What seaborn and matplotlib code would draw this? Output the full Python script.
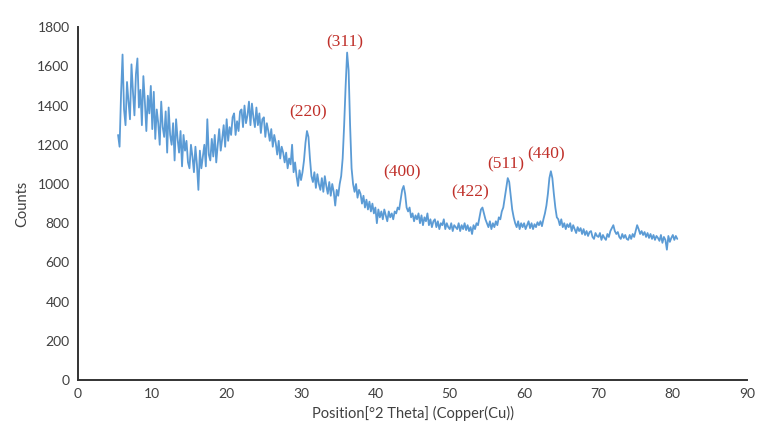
import numpy as np
import pandas as pd
import matplotlib
matplotlib.use("Agg")
import matplotlib.pyplot as plt
import seaborn as sns

# XRD scan: 2-theta grid (degrees) and measured counts
theta_start = 5.4
theta_step = 0.2

counts = [
    1250, 1190, 1460,                     # 5.4 - 5.8
    1660, 1380, 1300, 1520, 1420,         # 6
    1330, 1610, 1470, 1350, 1560,         # 7
    1640, 1390, 1480, 1300, 1550,         # 8
    1420, 1270, 1450, 1360, 1500,         # 9
    1280, 1470, 1230, 1380, 1310,         # 10
    1200, 1420, 1290, 1240, 1370,         # 11
    1160, 1390, 1250, 1200, 1310,         # 12
    1120, 1330, 1230, 1160, 1270,         # 13
    1090, 1250, 1170, 1220, 1110,         # 14
    1080, 1200, 1140, 1060, 1190,         # 15
    1100, 970, 1170, 1080, 1140,          # 16
    1200, 1090, 1330, 1150, 1120,         # 17
    1230, 1140, 1250, 1110, 1200,         # 18
    1280, 1170, 1230, 1300, 1190,         # 19
    1330, 1220, 1290, 1250, 1340,         # 20
    1360, 1250, 1320, 1270, 1370,         # 21
    1380, 1290, 1400, 1310, 1350,         # 22
    1420, 1300, 1410, 1340, 1290,         # 23
    1390, 1300, 1360, 1260, 1330,         # 24
    1340, 1240, 1310, 1270, 1220,         # 25
    1280, 1190, 1250, 1210, 1150,         # 26
    1220, 1130, 1190, 1160, 1110,         # 27
    1160, 1080, 1130, 1100, 1200,         # 28
    1060, 1110, 1040, 990, 1070,          # 29
    1020, 1060, 1120, 1210, 1270,         # 30  (220)
    1240, 1130, 1040, 1010, 1060,         # 31
    980, 1050, 1000, 970, 1030,           # 32
    960, 1040, 990, 950, 1010,            # 33
    940, 1000, 960, 890, 970,             # 34
    940, 1000, 1040, 1130, 1300,          # 35
    1500, 1670, 1580, 1300, 1080,         # 36  (311)
    1000, 960, 1000, 930, 970,            # 37
    950, 900, 940, 880, 920,              # 38
    870, 910, 860, 900, 850,              # 39
    880, 800, 870, 830, 860,              # 40
    820, 870, 840, 810, 860,              # 41
    830, 850, 820, 860, 850,              # 42
    880, 870, 920, 970, 990,              # 43  (400)
    950, 880, 860, 880, 830,              # 44
    850, 810, 840, 820, 850,              # 45
    800, 840, 790, 830, 810,              # 46
    850, 790, 820, 780, 810,              # 47
    820, 780, 810, 770, 800,              # 48
    790, 820, 770, 800, 780,              # 49
    770, 800, 760, 790, 780,              # 50
    770, 800, 760, 790, 770,              # 51
    800, 765, 790, 760, 780,              # 52
    745, 790, 770, 800, 790,              # 53
    830, 870, 880, 850, 820,              # 54  (422)
    800, 780, 810, 770, 800,              # 55
    780, 810, 790, 830, 820,              # 56
    860, 880, 930, 980, 1030,             # 57  (511)
    1010, 940, 870, 830, 800,             # 58
    780, 810, 770, 800, 780,              # 59
    800, 770, 790, 810, 775,              # 60
    800, 770, 795, 780, 805,              # 61
    790, 810, 785, 820, 850,              # 62
    890, 950, 1030, 1065, 1030,           # 63  (440)
    950, 880, 830, 820, 790,              # 64
    820, 780, 800, 770, 795,              # 65
    780, 800, 760, 790, 770,              # 66
    750, 780, 760, 775, 745,              # 67
    770, 740, 760, 735, 755,              # 68
    760, 730, 720, 750, 735,              # 69
    730, 750, 715, 740, 725,              # 70
    715, 745, 730, 760, 775,              # 71
    790, 760, 745, 755, 730,              # 72
    720, 745, 725, 740, 720,              # 73
    715, 740, 720, 745, 730,              # 74
    760, 790, 770, 745, 760,              # 75
    740, 755, 730, 750, 725,              # 76
    745, 720, 740, 715, 735,              # 77
    725, 710, 740, 700, 730,              # 78
    715, 665, 735, 705, 725,              # 79
    740, 715, 735, 720,                   # 80.0 - 80.6
]

two_theta = theta_start + theta_step * np.arange(len(counts))

# Miller indices of the indexed reflections and their label anchors
hkl_labels = ["(220)", "(311)", "(400)", "(422)", "(511)", "(440)"]
label_x = [31.0, 35.9, 43.6, 52.8, 57.5, 63.0]
label_y = [1367, 1724, 1061, 959, 1102, 1153]

x_ticks = [0, 10, 20, 30, 40, 50, 60, 70, 80, 90]
y_ticks = [0, 200, 400, 600, 800, 1000, 1200, 1400, 1600, 1800]

sns.set_theme(style="white")
plt.rcParams["font.family"] = ["Lato", "DejaVu Sans"]

df = pd.DataFrame({"two_theta": two_theta, "counts": counts})

fig = plt.figure(figsize=(7.64, 4.30), dpi=100)
ax = fig.add_axes([0.102, 0.116, 0.876, 0.821])

sns.lineplot(data=df, x="two_theta", y="counts", ax=ax,
             color="#5B9BD5", linewidth=1.3, estimator=None)

for txt, lx, ly in zip(hkl_labels, label_x, label_y):
    ax.text(lx, ly, txt, ha="center", va="center", color="#C0302A",
            fontsize=12.5, family=["Liberation Serif", "DejaVu Serif"])

ax.set_xlim(0, 90)
ax.set_ylim(0, 1800)
ax.set_xticks(x_ticks)
ax.set_yticks(y_ticks)
ax.tick_params(axis="both", length=0, labelsize=10, labelcolor="#404040", pad=6)

ax.set_xlabel("Position[°2 Theta] (Copper(Cu))", fontsize=10.5, color="#404040", labelpad=4)
ax.set_ylabel("Counts", fontsize=10.5, color="#404040", labelpad=6)

for side in ["top", "right"]:
    ax.spines[side].set_visible(False)
for side in ["left", "bottom"]:
    ax.spines[side].set_color("#333333")
    ax.spines[side].set_linewidth(1.4)

fig.savefig("out.png", dpi=100, facecolor="white")
